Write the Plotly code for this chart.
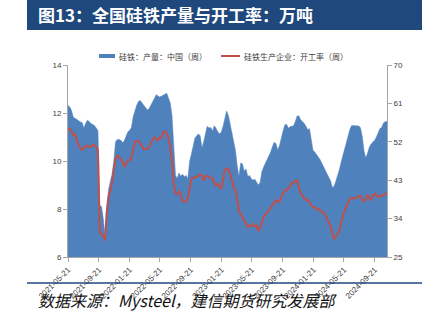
import pandas as pd
import plotly.graph_objects as go

# ---------------- data ----------------
start_date = "2021-05-21"
n_weeks = 182
dates = pd.date_range(start_date, periods=n_weeks, freq="7D")

production = [
    12.32, 12.25, 12.10, 11.82, 11.78, 11.73, 11.66, 11.63, 11.60, 11.38,
    11.56, 11.70, 11.65, 11.56, 11.52, 11.48, 11.38, 11.26, 8.15, 8.10,
    7.60, 6.90, 8.10, 8.80, 9.15, 9.45, 10.00, 10.80, 10.90, 10.90,
    10.86, 10.76, 10.85, 11.08, 11.22, 11.28, 11.40, 11.85, 12.10, 12.32,
    12.48, 12.52, 12.42, 12.33, 12.20, 12.13, 12.18, 12.30, 12.45, 12.60,
    12.76, 12.70, 12.67, 12.70, 12.74, 12.80, 12.82, 12.62, 12.42, 11.90,
    10.50, 9.40, 9.28, 9.50, 9.36, 9.45, 9.34, 9.40, 9.26, 9.98,
    10.28, 10.70, 10.95, 11.05, 11.13, 11.05, 10.55, 10.80, 11.20, 11.45,
    11.38, 11.40, 11.25, 11.47, 11.36, 11.21, 11.14, 11.20, 11.45, 11.85,
    12.08, 11.90, 11.55, 11.15, 10.80, 10.45, 9.80, 9.35, 9.92, 9.88,
    9.57, 9.67, 9.35, 9.40, 9.26, 9.20, 9.24, 9.11, 9.00, 9.10,
    9.55, 9.75, 9.90, 10.04, 10.20, 10.38, 10.60, 10.78, 10.73, 10.46,
    10.65, 11.01, 11.24, 11.50, 11.53, 11.36, 11.44, 11.44, 11.48, 11.65,
    11.88, 11.88, 11.72, 11.64, 11.57, 11.45, 11.30, 11.35, 10.93, 10.45,
    10.37, 10.28, 10.15, 10.06, 9.91, 9.76, 9.61, 9.47, 9.32, 9.17,
    8.90, 8.95, 9.17, 9.37, 9.65, 9.96, 10.24, 10.54, 10.80, 11.10,
    11.33, 11.48, 11.47, 11.48, 11.47, 11.46, 11.38, 11.00, 10.40, 10.12,
    10.33, 10.58, 10.71, 10.79, 10.86, 11.00, 11.15, 11.35, 11.40, 11.58,
    11.64, 11.65,
]

utilization = [
    54.7, 55.0, 54.4, 53.5, 53.7, 52.2, 51.3, 50.5, 50.1, 50.6,
    51.0, 51.1, 50.8, 50.8, 51.3, 51.2, 50.8, 49.9, 30.8, 30.3,
    30.0, 28.9, 35.5, 39.0, 41.0, 42.5, 45.5, 48.0, 48.7, 48.5,
    47.8, 47.3, 46.1, 46.9, 47.7, 47.7, 48.2, 50.3, 52.0, 52.2,
    52.2, 51.6, 51.0, 50.3, 50.2, 50.4, 50.7, 51.8, 52.3, 53.1,
    52.7, 52.3, 53.0, 52.9, 54.3, 54.4, 54.1, 52.8, 50.8, 47.6,
    42.2, 39.9, 39.7, 40.5, 39.7, 38.1, 37.9, 38.0, 38.7, 41.1,
    43.4, 43.6, 43.6, 43.8, 44.2, 44.4, 44.1, 42.9, 44.0, 44.0,
    43.7, 43.6, 43.4, 42.3, 41.8, 42.2, 41.4, 41.1, 43.8, 45.4,
    45.7, 45.6, 44.6, 42.5, 41.2, 40.7, 38.0, 35.9, 35.0, 34.2,
    33.3, 32.5, 32.0, 32.4, 32.2, 32.7, 32.2, 32.4, 31.1, 31.9,
    33.5, 34.4, 35.0, 35.3, 36.0, 36.6, 37.0, 37.8, 38.3, 37.9,
    37.9, 39.1, 39.9, 40.6, 40.7, 41.1, 41.6, 42.4, 42.4, 42.8,
    43.0, 41.3, 40.0, 39.3, 38.8, 38.3, 38.4, 37.9, 37.1, 36.7,
    36.6, 36.3, 36.1, 35.9, 35.7, 35.4, 34.8, 34.0, 33.2, 32.2,
    30.5, 29.2, 29.8, 30.4, 31.1, 33.2, 34.8, 35.9, 36.9, 38.0,
    38.7, 38.8, 38.7, 38.7, 38.9, 39.3, 39.4, 38.4, 38.1, 38.6,
    39.6, 38.8, 38.3, 39.5, 39.8, 39.5, 39.1, 39.4, 39.2, 39.6,
    39.8, 39.8,
]

x_tick_labels = [
    "2021-05-21", "2021-09-21", "2022-01-21", "2022-05-21", "2022-09-21",
    "2023-01-21", "2023-05-21", "2023-09-21", "2024-01-21", "2024-05-21",
    "2024-09-21",
]
left_ticks = [6, 8, 10, 12, 14]
right_ticks = [25, 34, 43, 52, 61, 70]

title_text = "图13：全国硅铁产量与开工率：万吨"
source_text = "数据来源：Mysteel，建信期货研究发展部"
name_prod = "硅铁：产量：中国（周）"
name_util = "硅铁生产企业：开工率（周）"

# ---------------- styling ----------------
W, H = 422, 328
L, R, T, B = 68, 387, 65, 257
BLUE = "#4F81BD"
RED = "#C0504D"
NAVY = "#1F497D"
TICK_COLOR = "#404040"
AXIS_COLOR = "#A6A6A6"
CJK = "Noto Sans CJK SC"


def px_x(x):
    return (x - L) / (R - L)


def px_y(y):
    return (B - y) / (B - T)


fig = go.Figure()
fig.add_trace(go.Scatter(
    x=dates, y=production, name=name_prod, mode="lines",
    line=dict(color=BLUE, width=0.5), fill="tozeroy", fillcolor=BLUE,
    yaxis="y", showlegend=False,
))
fig.add_trace(go.Scatter(
    x=dates, y=utilization, name=name_util, mode="lines",
    line=dict(color=RED, width=2), yaxis="y2", showlegend=False,
))

tick_font = dict(family="Liberation Sans, Arial", size=8, color=TICK_COLOR)

fig.update_layout(
    width=W, height=H,
    margin=dict(l=L, r=W - R, t=T, b=H - B),
    paper_bgcolor="white", plot_bgcolor="white",
    xaxis=dict(
        type="date",
        range=[dates[0], dates[-1]],
        tickvals=x_tick_labels, ticktext=x_tick_labels,
        tickangle=-45, tickfont=tick_font,
        showgrid=False, zeroline=False,
        showline=True, linecolor=AXIS_COLOR, linewidth=1,
        ticks="outside", ticklen=4, tickcolor=AXIS_COLOR,
    ),
    yaxis=dict(
        range=[6, 14], tickvals=left_ticks, tickfont=tick_font,
        showgrid=False, zeroline=False,
        showline=True, linecolor=AXIS_COLOR, linewidth=1,
        ticks="outside", ticklen=4, tickcolor=AXIS_COLOR,
    ),
    yaxis2=dict(
        range=[25, 70], tickvals=right_ticks, tickfont=tick_font,
        overlaying="y", side="right",
        showgrid=False, zeroline=False,
        showline=True, linecolor=AXIS_COLOR, linewidth=1,
        ticks="outside", ticklen=4, tickcolor=AXIS_COLOR,
    ),
)

shapes = []
# title band
shapes.append(dict(type="rect", xref="paper", yref="paper",
                   x0=px_x(27), x1=px_x(424), y0=px_y(30), y1=px_y(-2),
                   fillcolor=NAVY, line=dict(width=0), layer="above"))
# bottom rule
shapes.append(dict(type="line", xref="paper", yref="paper",
                   x0=px_x(27), x1=px_x(424), y0=px_y(283), y1=px_y(283),
                   line=dict(color=NAVY, width=1.5)))
# legend markers
shapes.append(dict(type="rect", xref="paper", yref="paper",
                   x0=px_x(99), x1=px_x(115), y0=px_y(58), y1=px_y(54),
                   fillcolor=BLUE, line=dict(width=0)))
shapes.append(dict(type="line", xref="paper", yref="paper",
                   x0=px_x(221), x1=px_x(240), y0=px_y(56), y1=px_y(56),
                   line=dict(color=RED, width=2)))
fig.update_layout(shapes=shapes)

annotations = [
    dict(text="<b>" + title_text + "</b>", xref="paper", yref="paper",
         x=px_x(36), y=px_y(15), xanchor="left", yanchor="middle",
         showarrow=False, font=dict(family=CJK, size=17, color="white")),
    dict(text=name_prod, xref="paper", yref="paper",
         x=px_x(117), y=px_y(56), xanchor="left", yanchor="middle",
         showarrow=False, font=dict(family=CJK, size=8, color="#404040")),
    dict(text=name_util, xref="paper", yref="paper",
         x=px_x(242), y=px_y(56), xanchor="left", yanchor="middle",
         showarrow=False, font=dict(family=CJK, size=8, color="#404040")),
    dict(text="<i>" + source_text + "</i>", xref="paper", yref="paper",
         x=px_x(36), y=px_y(300), xanchor="left", yanchor="middle",
         showarrow=False, font=dict(family=CJK, size=16, color="#111111")),
]
fig.update_layout(annotations=annotations)

fig.write_html("out.html")
